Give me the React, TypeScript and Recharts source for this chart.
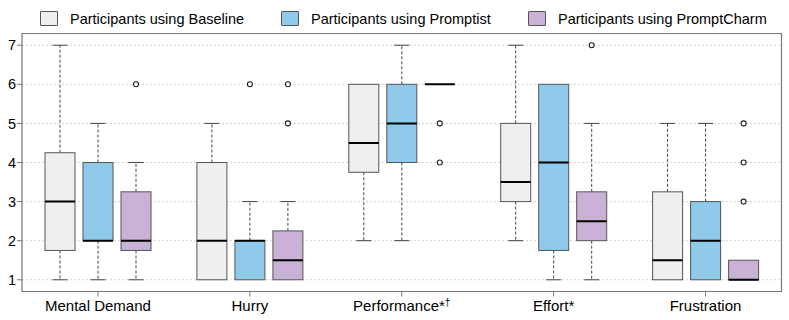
import React from 'react';
import { ComposedChart, Bar, XAxis, YAxis, CartesianGrid, ReferenceArea } from 'recharts';

// NASA-TLX categories
const categories = ['Mental Demand', 'Hurry', 'Performance*†', 'Effort*', 'Frustration'];

// each box: [lower whisker, Q1, median, Q3, upper whisker]
const baselineBoxes = [
  [1, 1.75, 3, 4.25, 7],
  [1, 1, 2, 4, 5],
  [2, 3.75, 4.5, 6, 6],
  [2, 3, 3.5, 5, 7],
  [1, 1, 1.5, 3.25, 5],
];
const baselineOutliers = [[], [], [], [], []];

const promptistBoxes = [
  [1, 2, 2, 4, 5],
  [1, 1, 2, 2, 3],
  [2, 4, 5, 6, 7],
  [1, 1.75, 4, 6, 6],
  [1, 1, 2, 3, 5],
];
const promptistOutliers = [[], [6], [], [], []];

const charmBoxes = [
  [1, 1.75, 2, 3.25, 4],
  [1, 1, 1.5, 2.25, 3],
  [6, 6, 6, 6, 6],
  [1, 2, 2.5, 3.25, 5],
  [1, 1, 1, 1.5, 1.5],
];
const charmOutliers = [[6], [5, 6], [4, 5], [7], [3, 4, 5]];

const yTicks = [1, 2, 3, 4, 5, 6, 7];

const FONT = '"Liberation Sans", Arial, sans-serif';

const groups = [
  { key: 'baseline', label: 'Participants using Baseline', fill: '#efefef', boxes: baselineBoxes, outliers: baselineOutliers },
  { key: 'promptist', label: 'Participants using Promptist', fill: '#8fcaeb', boxes: promptistBoxes, outliers: promptistOutliers },
  { key: 'charm', label: 'Participants using PromptCharm', fill: '#c9b2d6', boxes: charmBoxes, outliers: charmOutliers },
];

const data = categories.map((name, i) => {
  const row: any = { name };
  groups.forEach(g => {
    row[g.key] = { box: g.boxes[i], out: g.outliers[i] };
  });
  return row;
});

// bar spans the full range of the group (whiskers + outliers)
const rangeOf = (key: string) => (d: any) => {
  const all = [...d[key].box, ...d[key].out];
  return [Math.min(...all), Math.max(...all)];
};

const makeBoxShape = (key: string, fill: string) => (props: any) => {
  const { x, y, width, height, payload } = props;
  const s = payload[key];
  const all = [...s.box, ...s.out];
  const lo = Math.min(...all);
  const hi = Math.max(...all);
  const unit = hi > lo ? height / (hi - lo) : 0;
  const Y = (v: number) => y + (hi - v) * unit;
  const [wl, q1, med, q3, wh] = s.box;
  const cx = x + width / 2;
  const cap = width / 4;
  return (
    <g>
      {wh > q3 && (
        <>
          <line x1={cx} x2={cx} y1={Y(q3)} y2={Y(wh)} stroke="#444" strokeDasharray="3 2" />
          <line x1={cx - cap} x2={cx + cap} y1={Y(wh)} y2={Y(wh)} stroke="#444" />
        </>
      )}
      {wl < q1 && (
        <>
          <line x1={cx} x2={cx} y1={Y(q1)} y2={Y(wl)} stroke="#444" strokeDasharray="3 2" />
          <line x1={cx - cap} x2={cx + cap} y1={Y(wl)} y2={Y(wl)} stroke="#444" />
        </>
      )}
      <rect x={x} y={Y(q3)} width={width} height={Y(q1) - Y(q3)} fill={fill} stroke="#555" strokeWidth={1} />
      <line x1={x} x2={x + width} y1={Y(med)} y2={Y(med)} stroke="#000" strokeWidth={2} />
      {s.out.map((o: number, j: number) => (
        <circle key={j} cx={cx} cy={Y(o)} r={2.5} fill="#fff" stroke="#222" strokeWidth={1.1} />
      ))}
    </g>
  );
};

// category tick, the dagger is set as a small superscript
const CategoryTick = (props: any) => {
  const { x, y, payload } = props;
  const parts = String(payload.value).split('†');
  return (
    <text x={x} y={y} dy="0.71em" textAnchor="middle" fill="#000" fontSize={15} fontFamily={FONT}>
      {parts[0]}
      {parts.length > 1 && (
        <tspan fontSize={10} dy={-5}>†</tspan>
      )}
    </text>
  );
};

const legendLeft = [40, 281, 528];

export default function App() {
  return (
    <div style={{ position: 'absolute', left: 0, top: 0, width: 789, height: 320, background: '#fff', fontFamily: FONT }}>
      {/* legend */}
      {groups.map((g, i) => (
        <div key={g.key} style={{ position: 'absolute', top: 10, left: legendLeft[i], display: 'flex', alignItems: 'center', height: 17 }}>
          <span style={{ width: 18, height: 15, background: g.fill, border: '1px solid #555', borderRadius: 1, boxSizing: 'border-box', display: 'inline-block' }} />
          <span style={{ marginLeft: 12, fontSize: 14.5, color: '#000', whiteSpace: 'nowrap' }}>{g.label}</span>
        </div>
      ))}
      <ComposedChart
        width={789}
        height={320}
        data={data}
        margin={{ top: 33.5, right: 7.5, bottom: 0, left: 0 }}
        barGap={8}
      >
        <CartesianGrid horizontal vertical={false} stroke="#d4d4d4" strokeDasharray="2 2" />
        <XAxis
          dataKey="name"
          height={28.5}
          axisLine={false}
          tickLine={{ stroke: '#777' }}
          tickSize={5}
          tickMargin={4}
          tick={<CategoryTick />}
          interval={0}
        />
        <YAxis
          type="number"
          domain={[0.7, 7.3]}
          ticks={yTicks}
          width={22}
          axisLine={false}
          tickLine={{ stroke: '#777' }}
          tickSize={5}
          tickMargin={1}
          allowDataOverflow
          tick={{ fill: '#000', fontSize: 14.5, fontFamily: FONT }}
        />
        <ReferenceArea y1={0.7} y2={7.3} fill="none" stroke="#777" strokeWidth={1.2} />
        {groups.map(g => (
          <Bar
            key={g.key}
            dataKey={rangeOf(g.key)}
            barSize={30}
            fill={g.fill}
            shape={makeBoxShape(g.key, g.fill)}
            isAnimationActive={false}
          />
        ))}
      </ComposedChart>
    </div>
  );
}
